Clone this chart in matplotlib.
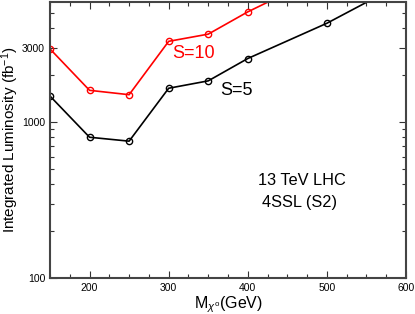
import matplotlib
matplotlib.use("Agg")
import matplotlib.pyplot as plt
from matplotlib.ticker import FixedLocator, NullFormatter, FixedFormatter

plt.rcParams['font.family'] = ['Liberation Sans', 'DejaVu Sans']
plt.rcParams['mathtext.fontset'] = 'custom'
plt.rcParams['mathtext.rm'] = 'Liberation Sans'
plt.rcParams['mathtext.it'] = 'Liberation Sans:italic'

mass_s10 = [150, 200, 250, 300, 350, 400, 500]
lumi_s10 = [2950, 1600, 1500, 3300, 3670, 5100, 9000]
mass_s5 = [150, 200, 250, 300, 350, 400, 500, 600]
lumi_s5 = [1470, 800, 755, 1650, 1840, 2560, 4310, 8000]

fig = plt.figure(figsize=(4.15, 3.14), dpi=100)
ax = fig.add_axes([50/415, 1-278/314, 356/415, 276/314])

ax.plot(mass_s10, lumi_s10, color='red', lw=1.2, marker='o', ms=4.5,
        mfc='none', mec='red', mew=1.0)
ax.plot(mass_s5, lumi_s5, color='black', lw=1.2, marker='o', ms=4.5,
        mfc='none', mec='black', mew=1.0)

ax.set_yscale('log')
ax.set_xlim(150, 600)
ax.set_ylim(100, 5900)

ax.xaxis.set_major_locator(FixedLocator([200, 300, 400, 500, 600]))
ax.xaxis.set_minor_locator(FixedLocator([150, 175, 225, 250, 275, 325, 350, 375,
                                         425, 450, 475, 525, 550, 575]))
ax.yaxis.set_major_locator(FixedLocator([100, 1000, 3000]))
ax.yaxis.set_major_formatter(FixedFormatter(['100', '1000', '3000']))
ax.yaxis.set_minor_locator(FixedLocator([200, 300, 400, 500, 600, 700, 800, 900,
                                         2000, 4000, 5000]))
ax.yaxis.set_minor_formatter(NullFormatter())

ax.tick_params(which='both', direction='in', top=True, right=True,
               labelsize=7.5, color='#333333')
ax.tick_params(which='major', length=5, width=0.8)
ax.tick_params(which='minor', length=3, width=0.8)
for s in ax.spines.values():
    s.set_linewidth(1.5)
    s.set_color('#444444')

ax.set_ylabel('Integrated Luminosity (fb$^{\\mathregular{-1}}$)', fontsize=11, labelpad=1)
ax.set_xlabel('M$_{\\chi^{\\mathregular{o}}}$(GeV)', fontsize=11.5, labelpad=1)

ax.text(331, 2770, 'S=10', color='red', fontsize=13, ha='center', va='center')
ax.text(386, 1600, 'S=5', color='black', fontsize=13, ha='center', va='center')
ax.text(469, 425, '13 TeV LHC', color='black', fontsize=11.8, ha='center', va='center')
ax.text(466, 307, '4SSL (S2)', color='black', fontsize=11.8, ha='center', va='center')

fig.savefig('out.png', dpi=100)
